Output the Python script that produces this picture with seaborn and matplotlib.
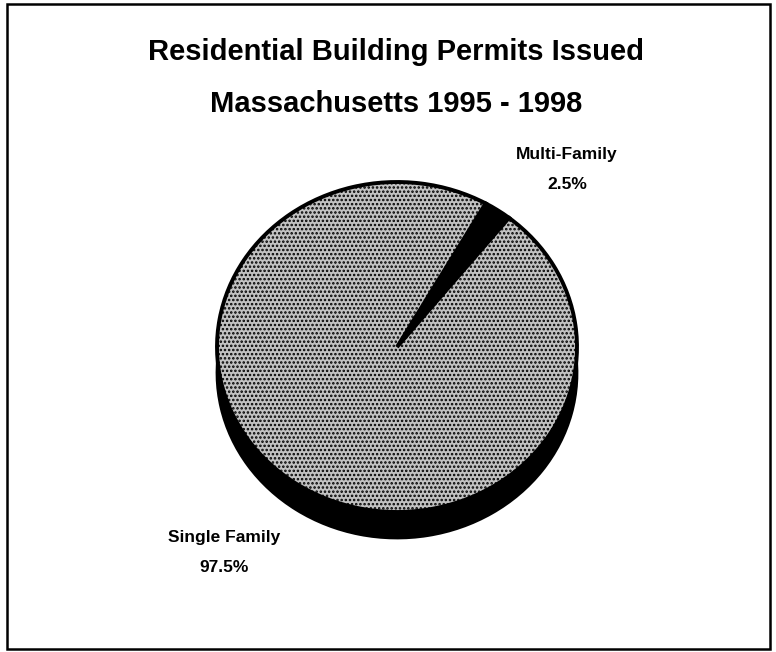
import matplotlib
matplotlib.use("Agg")
import matplotlib.pyplot as plt
import seaborn as sns
from matplotlib.patches import Rectangle

# -------------------------------
# Data
# -------------------------------
categories = ["Multi-Family", "Single Family"]
shares = [2.5, 97.5]
pct_labels = ["2.5%", "97.5%"]
title_lines = ["Residential Building Permits Issued", "Massachusetts 1995 - 1998"]

# -------------------------------
# Style
# -------------------------------
sns.set_theme(style="white")
plt.rcParams["font.family"] = ["Liberation Sans", "DejaVu Sans"]
plt.rcParams["hatch.linewidth"] = 1.2

W, H = 776, 652
fig = plt.figure(figsize=(W / 100, H / 100), dpi=100)
fig.patch.set_facecolor("white")

# pie is drawn as a slightly squashed (3D-looking) ellipse
cx, cy = 397, 347          # centre in pixels (from top-left)
rx, ry = 180, 165          # radii in pixels
pad = 1.3
ax = fig.add_axes([(cx - rx * pad) / W, 1 - (cy + ry * pad) / H,
                   2 * rx * pad / W, 2 * ry * pad / H])
ax.set_axis_off()

face_colors = ["black", "#c2c2c2"]
depth = 26 / ry            # thickness of the pie "side"

# shadow / side of the pie
ax.pie(shares, colors=["black", "black"], startangle=51.5, counterclock=True,
       center=(0, -depth), wedgeprops=dict(edgecolor="black", linewidth=2))

# top face of the pie
wedges, _ = ax.pie(shares, colors=face_colors, startangle=51.5, counterclock=True,
                   wedgeprops=dict(edgecolor="black", linewidth=2.8))
wedges[1].set_hatch("....")

ax.set_aspect("auto")
ax.set_xlim(-pad, pad)
ax.set_ylim(-pad, pad)

# -------------------------------
# Text
# -------------------------------
fig.text(396 / W, 1 - 60 / H, title_lines[0], ha="center", va="baseline",
         fontsize=21, fontweight="bold", color="black")
fig.text(396 / W, 1 - 112 / H, title_lines[1], ha="center", va="baseline",
         fontsize=21, fontweight="bold", color="black")

label_pos = {"Multi-Family": (567, 159), "Single Family": (224, 542)}
for name, pct in zip(categories, pct_labels):
    x, y = label_pos[name]
    fig.text(x / W, 1 - y / H, name, ha="center", va="baseline",
             fontsize=12.5, fontweight="bold", color="black")
    fig.text(x / W, 1 - (y + 30) / H, pct, ha="center", va="baseline",
             fontsize=12.5, fontweight="bold", color="black")

# outer frame
fig.patches.append(Rectangle((7 / W, 3 / H), 763 / W, 645 / H,
                             transform=fig.transFigure, fill=False,
                             edgecolor="black", linewidth=1.8))

fig.savefig("out.png", dpi=100)
plt.close(fig)
